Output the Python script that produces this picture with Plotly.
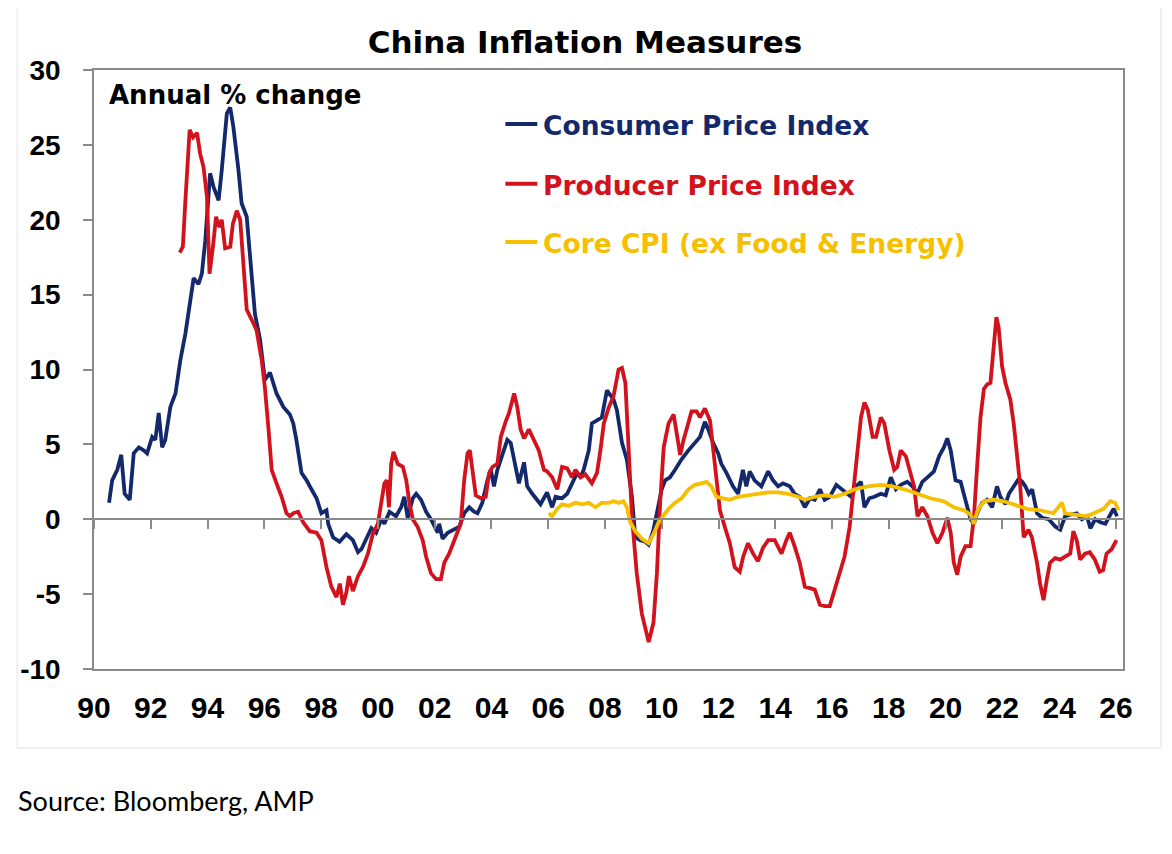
import plotly.graph_objects as go

# China inflation measures, annual % change
cpi_t = [
    1990.53, 1990.64, 1990.82, 1990.96, 1991.08, 1991.26, 1991.40, 1991.58, 1991.75, 1991.87,
    1992.05, 1992.16, 1992.28, 1992.40, 1992.51, 1992.69, 1992.87, 1993.04, 1993.22, 1993.39,
    1993.51, 1993.68, 1993.80, 1993.92, 1994.09, 1994.21, 1994.39, 1994.50, 1994.68, 1994.80,
    1994.91, 1995.09, 1995.20, 1995.38, 1995.50, 1995.67, 1995.85, 1996.02, 1996.20, 1996.43,
    1996.67, 1996.90, 1997.02, 1997.13, 1997.31, 1997.49, 1997.66, 1997.84, 1998.01, 1998.19,
    1998.25, 1998.42, 1998.65, 1998.89, 1999.12, 1999.30, 1999.42, 1999.60, 1999.77, 1999.94,
    2000.12, 2000.23, 2000.41, 2000.64, 2000.82, 2000.93, 2001.05, 2001.23, 2001.35, 2001.52,
    2001.70, 2001.87, 2001.99, 2002.11, 2002.16, 2002.28, 2002.46, 2002.69, 2002.87, 2003.04,
    2003.22, 2003.39, 2003.51, 2003.68, 2003.86, 2003.98, 2004.09, 2004.21, 2004.39, 2004.56,
    2004.68, 2004.80, 2004.97, 2005.15, 2005.26, 2005.44, 2005.61, 2005.73, 2005.96, 2006.14,
    2006.26, 2006.49, 2006.67, 2006.90, 2007.02, 2007.14, 2007.25, 2007.43, 2007.54, 2007.72,
    2007.89, 2008.07, 2008.19, 2008.30, 2008.42, 2008.60, 2008.77, 2008.95, 2009.07, 2009.24,
    2009.42, 2009.54, 2009.71, 2009.83, 2010.00, 2010.12, 2010.29, 2010.47, 2010.70, 2010.94,
    2011.17, 2011.35, 2011.52, 2011.64, 2011.81, 2011.99, 2012.10, 2012.28, 2012.51, 2012.69,
    2012.86, 2012.98, 2013.10, 2013.27, 2013.51, 2013.75, 2013.92, 2014.10, 2014.27, 2014.51,
    2014.68, 2014.86, 2015.04, 2015.22, 2015.39, 2015.57, 2015.74, 2015.92, 2016.15, 2016.33,
    2016.49, 2016.67, 2016.84, 2017.02, 2017.14, 2017.31, 2017.49, 2017.72, 2017.89, 2018.07,
    2018.25, 2018.42, 2018.65, 2018.83, 2019.00, 2019.18, 2019.36, 2019.59, 2019.77, 2019.94,
    2020.06, 2020.18, 2020.35, 2020.53, 2020.64, 2020.76, 2020.88, 2021.00, 2021.11, 2021.29,
    2021.46, 2021.64, 2021.81, 2021.93, 2022.11, 2022.23, 2022.40, 2022.58, 2022.70, 2022.81,
    2022.93, 2023.05, 2023.22, 2023.40, 2023.63, 2023.87, 2024.04, 2024.21, 2024.39, 2024.62,
    2024.80, 2024.98, 2025.10, 2025.27, 2025.45, 2025.63, 2025.80, 2025.92, 2026.04,
]
cpi_v = [
    1.1, 2.6, 3.3, 4.3, 1.7, 1.3, 4.4, 4.8, 4.6, 4.4,
    5.5, 5.3, 7.1, 4.8, 5.3, 7.5, 8.4, 10.6, 12.4, 14.6,
    16.1, 15.7, 16.4, 18.6, 23.1, 22.2, 21.3, 23.3, 27.1, 27.5,
    26.2, 23.3, 21.1, 20.2, 17.7, 13.7, 12.0, 9.3, 9.8, 8.4,
    7.5, 7.0, 6.4, 5.3, 3.1, 2.6, 2.0, 1.4, 0.4, 0.6,
    -0.3, -1.2, -1.5, -1.0, -1.4, -2.2, -2.0, -1.3, -0.6, -0.9,
    0.0, -0.3, 0.5, 0.2, 0.8, 1.5, 0.1, 1.4, 1.7, 1.3,
    0.5, 0.0, -0.5, -0.9, -0.3, -1.3, -0.9, -0.7, -0.5, 0.4,
    0.8, 0.5, 0.4, 1.1, 2.6, 3.3, 2.2, 3.3, 4.4, 5.3,
    5.1, 4.0, 2.4, 3.8, 2.2, 1.7, 1.3, 1.0, 1.8, 0.8,
    1.5, 1.4, 1.7, 2.6, 3.1, 2.8, 3.3, 4.6, 6.4, 6.6,
    6.8, 8.6, 8.3, 8.0, 7.3, 5.1, 4.0, 1.5, -1.2, -1.4,
    -1.5, -1.7, -0.7, 0.4, 2.0, 2.6, 2.8, 3.3, 4.0, 4.6,
    5.1, 5.5, 6.5, 6.0, 5.1, 4.4, 3.7, 3.1, 2.2, 1.7,
    3.3, 2.2, 3.2, 2.6, 2.2, 3.2, 2.6, 2.2, 2.4, 2.2,
    1.7, 1.5, 0.8, 1.4, 1.3, 2.0, 1.3, 1.5, 2.3, 2.0,
    1.8, 1.5, 2.2, 2.5, 0.8, 1.4, 1.5, 1.7, 1.6, 2.8,
    2.0, 2.3, 2.5, 2.2, 1.7, 2.5, 2.8, 3.2, 4.2, 4.8,
    5.4, 4.6, 2.6, 2.5, 1.7, 0.8, 0.0, -0.3, 0.4, 1.1,
    1.3, 0.8, 2.2, 1.5, 1.0, 1.7, 2.2, 2.7, 2.5, 2.2,
    1.7, 2.0, 0.4, 0.1, 0.0, -0.5, -0.7, 0.2, 0.3, 0.4,
    0.0, 0.2, -0.6, 0.0, -0.2, -0.3, 0.3, 0.7, 0.2,
]

ppi_t = [
    1993.02, 1993.13, 1993.22, 1993.30, 1993.37, 1993.49, 1993.63, 1993.74, 1993.86, 1993.98,
    1994.07, 1994.19, 1994.30, 1994.42, 1994.50, 1994.62, 1994.80, 1994.89, 1995.03, 1995.15,
    1995.26, 1995.38, 1995.56, 1995.73, 1995.91, 1996.02, 1996.14, 1996.26, 1996.43, 1996.61,
    1996.78, 1996.90, 1997.02, 1997.19, 1997.37, 1997.60, 1997.84, 1998.01, 1998.19, 1998.36,
    1998.54, 1998.66, 1998.77, 1998.89, 1998.98, 1999.12, 1999.30, 1999.47, 1999.65, 1999.82,
    2000.00, 2000.12, 2000.23, 2000.32, 2000.39, 2000.47, 2000.55, 2000.70, 2000.88, 2001.00,
    2001.11, 2001.23, 2001.40, 2001.58, 2001.70, 2001.87, 2002.05, 2002.22, 2002.34, 2002.51,
    2002.75, 2002.92, 2003.04, 2003.16, 2003.24, 2003.33, 2003.45, 2003.63, 2003.80, 2003.92,
    2004.04, 2004.21, 2004.33, 2004.50, 2004.62, 2004.80, 2004.91, 2005.03, 2005.15, 2005.32,
    2005.50, 2005.67, 2005.85, 2005.96, 2006.14, 2006.32, 2006.49, 2006.67, 2006.84, 2006.96,
    2007.14, 2007.31, 2007.54, 2007.72, 2007.84, 2007.96, 2008.14, 2008.30, 2008.48, 2008.60,
    2008.72, 2008.83, 2008.95, 2009.12, 2009.30, 2009.54, 2009.71, 2009.83, 2009.95, 2010.07,
    2010.24, 2010.42, 2010.53, 2010.65, 2010.77, 2010.89, 2011.05, 2011.23, 2011.35, 2011.52,
    2011.70, 2011.87, 2012.05, 2012.22, 2012.40, 2012.57, 2012.75, 2012.87, 2013.04, 2013.22,
    2013.39, 2013.57, 2013.75, 2013.98, 2014.22, 2014.39, 2014.51, 2014.68, 2014.86, 2015.04,
    2015.22, 2015.39, 2015.57, 2015.74, 2015.92, 2016.09, 2016.27, 2016.44, 2016.62, 2016.74,
    2016.84, 2017.02, 2017.14, 2017.26, 2017.43, 2017.55, 2017.72, 2017.84, 2018.02, 2018.19,
    2018.30, 2018.42, 2018.60, 2018.77, 2018.89, 2019.01, 2019.18, 2019.36, 2019.54, 2019.71,
    2019.89, 2020.06, 2020.18, 2020.29, 2020.41, 2020.53, 2020.70, 2020.88, 2021.00, 2021.11,
    2021.23, 2021.35, 2021.46, 2021.58, 2021.70, 2021.79, 2021.87, 2021.99, 2022.11, 2022.28,
    2022.40, 2022.51, 2022.63, 2022.75, 2022.92, 2023.04, 2023.22, 2023.33, 2023.45, 2023.57,
    2023.68, 2023.86, 2024.04, 2024.21, 2024.39, 2024.50, 2024.62, 2024.74, 2024.91, 2025.08,
    2025.26, 2025.43, 2025.55, 2025.67, 2025.85, 2026.02,
]
ppi_v = [
    17.8, 18.2, 21.3, 24.0, 26.0, 25.5, 25.8, 24.4, 23.5, 21.5,
    16.4, 18.2, 20.2, 19.5, 20.0, 18.1, 18.2, 19.7, 20.6, 20.0,
    16.8, 14.0, 13.3, 12.6, 10.6, 8.8, 6.2, 3.3, 2.4, 1.5,
    0.4, 0.2, 0.4, 0.5, -0.2, -0.8, -0.9, -1.4, -3.2, -4.5,
    -5.2, -4.3, -5.7, -4.9, -3.8, -4.8, -3.8, -3.2, -2.3, -1.0,
    -0.3, 1.1, 2.4, 2.6, 0.8, 3.7, 4.5, 3.7, 3.5, 2.6,
    1.1, 0.0, -0.5, -1.4, -2.5, -3.6, -4.0, -4.0, -2.9, -2.3,
    -1.2, -0.3, 2.6, 4.4, 4.6, 3.1, 1.6, 1.4, 1.5, 3.1,
    3.5, 3.7, 5.5, 6.5, 7.1, 8.4, 7.5, 6.0, 5.4, 6.0,
    5.3, 4.6, 3.3, 3.2, 2.8, 2.0, 3.5, 3.4, 2.8, 3.3,
    2.8, 3.0, 2.4, 3.1, 4.6, 6.4, 7.5, 8.2, 10.0, 10.1,
    9.1, 5.3, 0.2, -3.6, -6.3, -8.2, -6.9, -3.6, 1.3, 4.8,
    6.4, 7.0, 5.7, 4.3, 5.3, 6.2, 7.2, 7.2, 6.8, 7.4,
    6.6, 3.7, 0.6, -0.5, -1.6, -3.2, -3.5, -2.5, -1.6, -2.3,
    -2.8, -1.9, -1.4, -1.4, -2.3, -1.4, -0.9, -1.8, -2.9, -4.5,
    -4.6, -4.7, -5.7, -5.8, -5.8, -4.7, -3.4, -2.5, -0.5, 1.7,
    3.5, 6.8, 7.8, 7.3, 5.5, 5.5, 6.8, 6.4, 4.6, 3.3,
    3.5, 4.6, 4.2, 3.1, 2.2, 0.2, 0.8, 0.2, -0.9, -1.6,
    -0.9, 0.1, -0.9, -2.9, -3.7, -2.5, -1.8, -1.8, 0.2, 3.5,
    6.8, 8.7, 9.0, 9.1, 11.7, 13.5, 12.8, 10.2, 9.1, 8.0,
    6.4, 4.6, 2.2, -1.2, -0.7, -1.2, -2.9, -4.3, -5.4, -4.0,
    -2.9, -2.6, -2.7, -2.5, -2.3, -0.8, -1.4, -2.7, -2.3, -2.2,
    -2.7, -3.5, -3.4, -2.3, -2.0, -1.4,
]

core_t = [
    2006.02, 2006.14, 2006.32, 2006.49, 2006.73, 2006.96, 2007.19, 2007.43, 2007.66, 2007.89,
    2008.13, 2008.30, 2008.48, 2008.65, 2008.77, 2008.89, 2009.07, 2009.30, 2009.54, 2009.71,
    2009.89, 2010.07, 2010.24, 2010.47, 2010.70, 2010.94, 2011.17, 2011.40, 2011.58, 2011.75,
    2011.93, 2012.16, 2012.40, 2012.69, 2013.04, 2013.39, 2013.75, 2014.10, 2014.45, 2014.80,
    2015.04, 2015.39, 2015.74, 2016.09, 2016.44, 2016.80, 2017.26, 2017.72, 2018.13, 2018.54,
    2019.01, 2019.47, 2019.94, 2020.29, 2020.64, 2020.88, 2021.00, 2021.11, 2021.35, 2021.70,
    2022.05, 2022.40, 2022.87, 2023.33, 2023.80, 2024.10, 2024.21, 2024.62, 2024.98, 2025.22,
    2025.57, 2025.80, 2025.97, 2026.09,
]
core_v = [
    0.4, 0.2, 0.7, 1.0, 0.9, 1.1, 1.0, 1.1, 0.8, 1.1,
    1.1, 1.2, 1.1, 1.2, 0.8, -0.2, -0.8, -1.3, -1.6, -1.0,
    -0.2, 0.3, 0.7, 1.1, 1.4, 2.0, 2.3, 2.4, 2.5, 2.2,
    1.5, 1.4, 1.3, 1.5, 1.6, 1.7, 1.8, 1.8, 1.7, 1.5,
    1.3, 1.5, 1.6, 1.5, 1.7, 2.0, 2.2, 2.3, 2.2, 2.0,
    1.7, 1.4, 1.2, 0.8, 0.6, 0.3, -0.3, 0.5, 1.2, 1.3,
    1.2, 1.0, 0.7, 0.6, 0.4, 1.1, 0.4, 0.3, 0.2, 0.4,
    0.7, 1.2, 1.1, 0.6,
]

x_ticks = list(range(1990, 2027, 2))
x_ticklabels = [str(y)[2:] for y in x_ticks]
y_ticks = [-10, -5, 0, 5, 10, 15, 20, 25, 30]
y_ticklabels = ["-10", "-5", "0", "5", "10", "15", "20", "25", "30"]

NAVY = "#14296b"
RED = "#d2121c"
GOLD = "#f6bf00"
AXIS = "#8a8a8a"
FONT = "DejaVu Sans"
TICKFONT = "Liberation Sans"
LW = 3.8
x_range = [1990, 2026.25]
y_range = [-10, 30]

fig = go.Figure()
fig.add_trace(go.Scatter(x=cpi_t, y=cpi_v, mode="lines", name="Consumer Price Index",
                         line=dict(color=NAVY, width=LW)))
fig.add_trace(go.Scatter(x=ppi_t, y=ppi_v, mode="lines", name="Producer Price Index",
                         line=dict(color=RED, width=LW)))
fig.add_trace(go.Scatter(x=core_t, y=core_v, mode="lines", name="Core CPI (ex Food & Energy)",
                         line=dict(color=GOLD, width=LW)))
# dummy trace so the zero-line axis gets drawn
fig.add_trace(go.Scatter(x=[x_range[0]], y=[0], xaxis="x2", mode="lines",
                         hoverinfo="skip", showlegend=False))

# legend: short coloured dash + coloured label inside the plot
legend_items = [("Consumer Price Index", NAVY, 0.908),
                ("Producer Price Index", RED, 0.808),
                ("Core CPI (ex Food & Energy)", GOLD, 0.711)]
for txt, col, yy in legend_items:
    fig.add_shape(type="line", xref="paper", yref="paper", x0=0.3998, x1=0.4308,
                  y0=yy + 0.002, y1=yy + 0.002, line=dict(color=col, width=4))
    fig.add_annotation(x=0.434, y=yy, xref="paper", yref="paper", text=txt, showarrow=False,
                       xanchor="left", yanchor="middle",
                       font=dict(family=FONT, size=26.5, color=col, weight="bold"))

fig.add_annotation(x=0.0126, y=0.958, xref="paper", yref="paper", text="Annual % change",
                   showarrow=False, xanchor="left", yanchor="middle",
                   font=dict(family=FONT, size=26, color="black", weight="bold"))
fig.add_annotation(x=-0.0755, y=-0.2187, xref="paper", yref="paper",
                   text="Source: Bloomberg, AMP", showarrow=False, xanchor="left",
                   yanchor="middle", font=dict(family="Lato", size=27, color="black"))

# faint frame round the chart
fig.add_shape(type="rect", xref="paper", yref="paper", x0=-0.0745, x1=1.037,
              y0=-0.1319, y1=1.105, line=dict(color="#ebebeb", width=1.5), layer="below")

# page body adds an 8px margin, so the figure is 8px smaller and offset
fig.update_layout(
    width=1164, height=846,
    paper_bgcolor="white", plot_bgcolor="white",
    showlegend=False,
    margin=dict(l=82, r=49, t=62, b=185),
    title=dict(text="China Inflation Measures", x=0.4957, y=0.9598,
               xanchor="center", yanchor="middle",
               font=dict(family=FONT, size=31, color="black", weight="bold")),
    xaxis=dict(range=x_range, tickvals=x_ticks, ticktext=x_ticklabels, ticks="",
               showline=True, linecolor=AXIS, linewidth=1.5, mirror=True,
               showgrid=False, zeroline=False, ticklabelstandoff=11,
               tickfont=dict(family=TICKFONT, size=30, color="black", weight="bold")),
    xaxis2=dict(range=x_range, overlaying="x", anchor="free", side="bottom",
                position=(0 - y_range[0]) / (y_range[1] - y_range[0]),
                tickvals=x_ticks, ticks="outside", ticklen=9, tickwidth=1.5,
                tickcolor=AXIS, showticklabels=False, showline=True,
                linecolor=AXIS, linewidth=1.5, showgrid=False, zeroline=False),
    yaxis=dict(range=y_range, tickvals=y_ticks, ticktext=y_ticklabels, ticks="outside",
               ticklen=9, tickwidth=1.5, tickcolor=AXIS, showline=True, linecolor=AXIS,
               linewidth=1.5, mirror=True, showgrid=False, zeroline=False,
               ticklabelstandoff=17,
               tickfont=dict(family=TICKFONT, size=28, color="black", weight="bold")),
)

fig.write_html("out.html")
